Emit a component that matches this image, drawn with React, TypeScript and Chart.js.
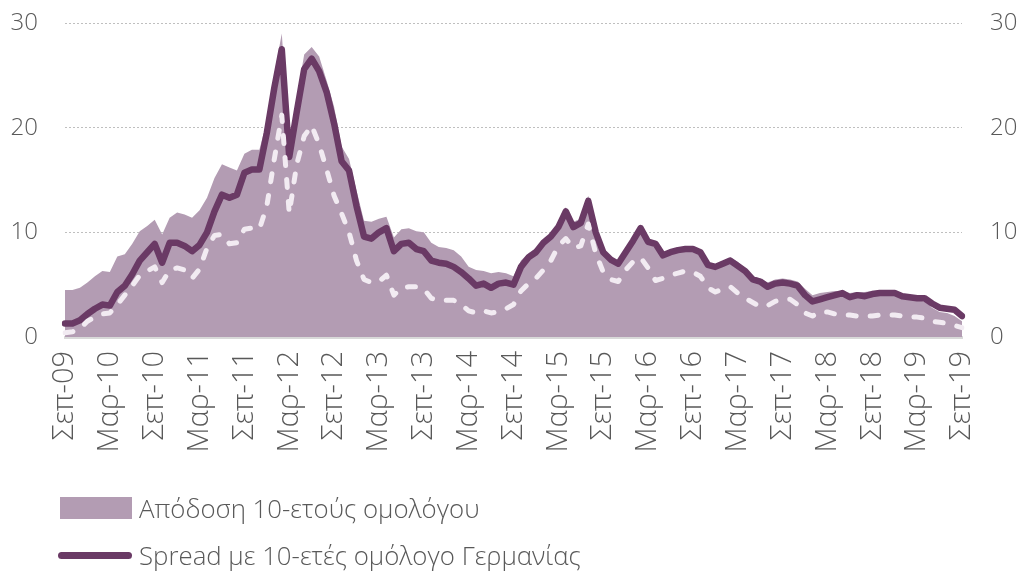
import React, { useEffect, useRef } from 'react';
import { Chart, registerables } from 'chart.js';

Chart.register(...registerables);

// Monthly categories Σεπ-09 … Σεπ-19
const MONTHS = ['Ιαν', 'Φεβ', 'Μαρ', 'Απρ', 'Μαϊ', 'Ιουν', 'Ιουλ', 'Αυγ', 'Σεπ', 'Οκτ', 'Νοε', 'Δεκ'];
const START_MONTH = 8; // Σεπ
const START_YEAR = 9; // 2009
const N_MONTHS = 121;
const categories: string[] = [];
for (let k = 0; k < N_MONTHS; k++) {
  const m = (START_MONTH + k) % 12;
  const y = START_YEAR + Math.floor((START_MONTH + k) / 12);
  categories.push(`${MONTHS[m]}-${String(y).padStart(2, '0')}`);
}
const LABEL_EVERY = 6;

const Y_TICKS = [0, 10, 20, 30];

// 10-year bond yield (area)
const yieldArea = [
  4.5, 4.5, 4.7, 5.2, 5.8, 6.3, 6.2, 7.7, 7.9, 8.9, 10.1, 10.6, 11.2, 9.8, 11.4, 11.9, 11.7, 11.4, 12.1, 13.3,
  15.2, 16.5, 16.2, 15.9, 17.5, 17.9, 17.9, 20.6, 25.1, 29.0, 18.8, 22.8, 27.0, 27.7, 26.8, 24.5, 22.0, 18.2, 17.0, 14.0,
  11.1, 11.0, 11.3, 11.5, 9.5, 10.3, 10.4, 10.1, 10.0, 9.0, 8.6, 8.5, 8.3, 7.7, 6.7, 6.4, 6.3, 6.1, 6.2, 6.1,
  5.8, 7.3, 8.0, 8.5, 9.3, 9.8, 11.0, 12.4, 11.0, 11.3, 13.5, 10.2, 8.3, 7.6, 7.2, 8.4, 9.4, 10.6, 9.3, 9.2,
  8.1, 8.3, 8.4, 8.4, 8.3, 8.0, 6.9, 6.8, 7.2, 7.6, 7.2, 6.6, 5.8, 5.6, 5.2, 5.5, 5.6, 5.5, 5.3, 4.6,
  4.0, 4.2, 4.3, 4.4, 4.4, 4.2, 4.3, 4.3, 4.4, 4.3, 4.2, 4.2, 3.8, 3.6, 3.5, 3.4, 2.8, 2.4, 2.3, 2.0,
  1.5,
];

// Spread vs German 10-year bond (solid line)
const spreadGermany = [
  1.3, 1.3, 1.6, 2.2, 2.7, 3.1, 3.0, 4.3, 4.9, 6.0, 7.3, 8.1, 8.9, 7.1, 9.0, 9.0, 8.7, 8.2, 8.8, 10.0,
  12.0, 13.6, 13.3, 13.6, 15.7, 16.0, 16.0, 19.5, 23.8, 27.5, 17.2, 21.5, 25.6, 26.6, 25.4, 23.4, 20.4, 16.8, 15.9, 12.5,
  9.6, 9.4, 10.0, 10.4, 8.2, 8.9, 9.0, 8.4, 8.2, 7.3, 7.1, 7.0, 6.7, 6.2, 5.6, 4.9, 5.1, 4.7, 5.1, 5.2,
  5.0, 6.7, 7.6, 8.1, 9.0, 9.6, 10.5, 12.0, 10.5, 10.9, 13.0, 10.0, 8.1, 7.4, 7.0, 8.1, 9.2, 10.4, 9.1, 8.9,
  7.8, 8.1, 8.3, 8.4, 8.4, 8.1, 6.9, 6.7, 7.0, 7.3, 6.8, 6.3, 5.5, 5.3, 4.8, 5.1, 5.2, 5.1, 4.9, 4.0,
  3.4, 3.6, 3.8, 4.0, 4.2, 3.8, 4.0, 3.9, 4.1, 4.2, 4.2, 4.2, 3.9, 3.8, 3.7, 3.7, 3.2, 2.8, 2.7, 2.6,
  2.0,
];

// Second spread series (white dashed line, not shown in legend)
const spreadOther = [
  0.4, 0.5, 0.8, 1.5, 1.9, 2.2, 2.3, 3.1, 4.0, 4.9, 5.9, 6.3, 6.7, 5.2, 6.4, 6.6, 6.4, 5.6, 6.5, 8.5,
  9.7, 9.8, 8.9, 9.0, 10.3, 10.4, 10.3, 12.5, 17.0, 21.2, 11.8, 16.5, 19.2, 20.2, 18.4, 16.0, 13.5, 11.8, 10.0, 7.3,
  5.5, 5.2, 5.3, 5.9, 4.0, 4.7, 4.8, 4.8, 4.6, 3.7, 3.5, 3.5, 3.5, 3.1, 2.5, 2.3, 2.5, 2.3, 2.4, 2.7,
  3.1, 4.4, 5.1, 5.6, 6.4, 7.3, 8.7, 9.4, 8.5, 8.7, 10.8, 8.0, 6.2, 5.5, 5.3, 6.4, 7.2, 7.6, 6.6, 5.4,
  5.6, 5.9, 6.1, 6.3, 6.2, 5.8, 4.7, 4.3, 4.6, 4.8, 4.2, 3.7, 3.3, 2.9, 3.0, 3.4, 3.6, 3.6, 3.1, 2.3,
  2.0, 2.4, 2.4, 2.2, 2.1, 2.1, 2.0, 2.0, 2.0, 2.1, 2.1, 2.1, 2.0, 1.9, 1.9, 1.8, 1.5, 1.4, 1.3, 1.1,
  0.9,
];

const LEGEND_AREA = 'Απόδοση 10-ετούς ομολόγου';
const LEGEND_LINE = 'Spread με 10-ετές ομόλογο Γερμανίας';
const LABEL_DASHED = 'Spread (δεύτερη σειρά)';

const AREA_COLOR = '#B39CB3';
const LINE_COLOR = '#6A3A65';
const DASH_COLOR = '#F2EBF2';
const TEXT_COLOR = '#595959';
const FONT = "'Open Sans', 'DejaVu Sans', sans-serif";

export default function App() {
  const canvasRef = useRef<HTMLCanvasElement | null>(null);

  useEffect(() => {
    document.body.style.margin = '0';
    const canvas = canvasRef.current;
    if (!canvas) return;
    const fixVertical = (width: number) => (s: any) => {
      s.width = width;
      s.paddingTop = 0;
      s.paddingBottom = 0;
    };
    const chart = new Chart(canvas, {
      type: 'line',
      data: {
        labels: categories,
        datasets: [
          {
            label: LABEL_DASHED,
            data: spreadOther,
            borderColor: DASH_COLOR,
            borderWidth: 5,
            borderDash: [8, 14],
            borderCapStyle: 'round',
            borderJoinStyle: 'round',
            pointRadius: 0,
            fill: false,
            tension: 0,
            order: 1,
          },
          {
            label: LEGEND_LINE,
            data: spreadGermany,
            borderColor: LINE_COLOR,
            borderWidth: 6.5,
            borderJoinStyle: 'round',
            borderCapStyle: 'round',
            pointRadius: 0,
            fill: false,
            tension: 0,
            order: 2,
          },
          {
            label: LEGEND_AREA,
            data: yieldArea,
            backgroundColor: AREA_COLOR,
            borderColor: AREA_COLOR,
            borderWidth: 0,
            pointRadius: 0,
            fill: 'origin',
            tension: 0,
            order: 3,
          },
        ],
      },
      options: {
        responsive: false,
        animation: false,
        devicePixelRatio: 1,
        layout: { padding: { top: 23, left: 0, right: 0, bottom: 0 } },
        plugins: {
          legend: { display: false },
          tooltip: { enabled: false },
        },
        scales: {
          x: {
            type: 'category',
            offset: false,
            grid: { display: false, drawTicks: false },
            border: { display: true, color: '#D9D9D9', width: 3 },
            ticks: {
              autoSkip: false,
              minRotation: 90,
              maxRotation: 90,
              padding: 14,
              color: TEXT_COLOR,
              font: { family: FONT, size: 29, weight: '300' },
              callback: (_v: any, i: number) => (i % LABEL_EVERY === 0 ? categories[i] : null),
            },
            afterFit: (s: any) => {
              s.height = 240;
              s.paddingLeft = 0;
              s.paddingRight = 0;
            },
          },
          y: {
            position: 'left',
            min: Y_TICKS[0],
            max: Y_TICKS[Y_TICKS.length - 1],
            afterBuildTicks: (s: any) => {
              s.ticks = Y_TICKS.map((v) => ({ value: v }));
            },
            grid: {
              drawTicks: false,
              color: (ctx: any) => (ctx.tick && ctx.tick.value === 0 ? 'rgba(0,0,0,0)' : '#BFBFBF'),
              lineWidth: 1,
            },
            border: { display: false, dash: [2, 2] },
            ticks: {
              padding: 27,
              color: TEXT_COLOR,
              font: { family: FONT, size: 24, weight: '300' },
            },
            afterFit: fixVertical(65),
          },
          y2: {
            position: 'right',
            min: Y_TICKS[0],
            max: Y_TICKS[Y_TICKS.length - 1],
            afterBuildTicks: (s: any) => {
              s.ticks = Y_TICKS.map((v) => ({ value: v }));
            },
            grid: { display: false, drawTicks: false },
            border: { display: false },
            ticks: {
              padding: 28,
              color: TEXT_COLOR,
              font: { family: FONT, size: 24, weight: '300' },
            },
            afterFit: fixVertical(62),
          },
        },
      },
    } as any);
    return () => chart.destroy();
  }, []);

  const textStyle: React.CSSProperties = {
    fontFamily: FONT,
    fontWeight: 300,
    fontSize: 25.8,
    color: TEXT_COLOR,
    marginLeft: 7,
    whiteSpace: 'nowrap',
  };

  return (
    <div style={{ position: 'relative', width: 1024, height: 577, overflow: 'hidden', background: '#fff' }}>
      <canvas ref={canvasRef} width={1024} height={577} style={{ position: 'absolute', left: 0, top: 0 }} />
      <div style={{ position: 'absolute', left: 60, top: 492, display: 'flex', alignItems: 'center', height: 32 }}>
        <span style={{ display: 'inline-block', width: 72, height: 22, background: AREA_COLOR }} />
        <span style={textStyle}>{LEGEND_AREA}</span>
      </div>
      <div style={{ position: 'absolute', left: 58, top: 539, display: 'flex', alignItems: 'center', height: 32 }}>
        <span style={{ display: 'inline-block', width: 74, height: 7, background: LINE_COLOR, borderRadius: 4 }} />
        <span style={textStyle}>{LEGEND_LINE}</span>
      </div>
    </div>
  );
}
